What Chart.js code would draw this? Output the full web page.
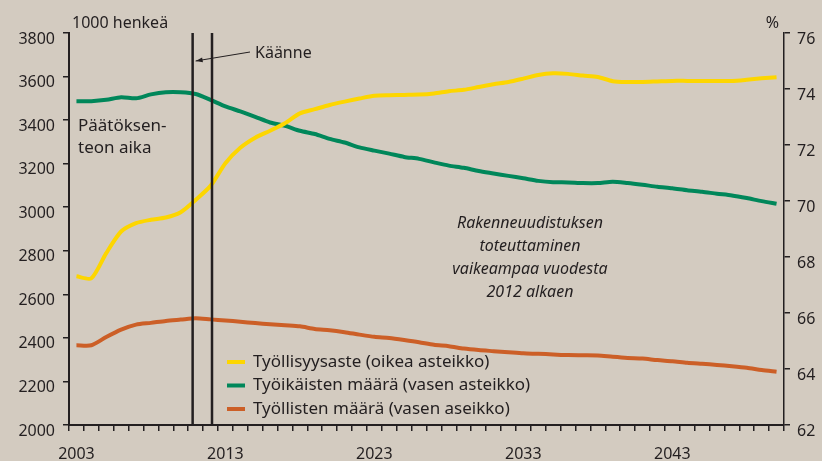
<!DOCTYPE html>
<html>
<head>
<meta charset="utf-8">
<script src="https://cdn.jsdelivr.net/npm/chart.js@4"></script>
<style>
  html, body { margin: 0; padding: 0; background: #d3cbc0; }
  #wrap { width: 822px; height: 461px; position: relative; }
</style>
</head>
<body>
<div id="wrap"><canvas id="chart"></canvas></div>
<script>
// years on the x axis (one band per year)
const years = [
  2003, 2004, 2005, 2006, 2007, 2008, 2009, 2010, 2011, 2012,
  2013, 2014, 2015, 2016, 2017, 2018, 2019, 2020, 2021, 2022,
  2023, 2024, 2025, 2026, 2027, 2028, 2029, 2030, 2031, 2032,
  2033, 2034, 2035, 2036, 2037, 2038, 2039, 2040, 2041, 2042,
  2043, 2044, 2045, 2046, 2047, 2048, 2049, 2050
];
const labelYears = [2003, 2013, 2023, 2033, 2043];

// Työllisyysaste, % (right axis)
const employmentRate = [
  67.31, 67.24, 68.14, 68.91, 69.21, 69.33, 69.41, 69.60, 70.04, 70.54,
  71.35, 71.90, 72.26, 72.51, 72.78, 73.13, 73.28, 73.43, 73.55, 73.66,
  73.76, 73.78, 73.79, 73.80, 73.84, 73.92, 73.97, 74.07, 74.17, 74.25,
  74.37, 74.50, 74.56, 74.54, 74.48, 74.43, 74.28, 74.25, 74.25, 74.27,
  74.29, 74.29, 74.29, 74.29, 74.29, 74.33, 74.38, 74.42
];
// Työikäisten määrä, 1000 henkeä (left axis)
const workingAge = [
  3487, 3487, 3493, 3505, 3500, 3518, 3528, 3528, 3520, 3493,
  3463, 3440, 3415, 3389, 3374, 3351, 3336, 3314, 3297, 3275,
  3260, 3246, 3231, 3222, 3206, 3191, 3181, 3166, 3155, 3144,
  3133, 3121, 3115, 3114, 3111, 3111, 3117, 3111, 3103, 3094,
  3087, 3078, 3071, 3062, 3054, 3042, 3028, 3016
];
// Työllisten määrä, 1000 henkeä (left axis)
const employed = [
  2366, 2366, 2404, 2438, 2461, 2469, 2478, 2484, 2490, 2485,
  2480, 2474, 2468, 2463, 2458, 2453, 2441, 2435, 2426, 2415,
  2405, 2399, 2390, 2380, 2368, 2362, 2351, 2344, 2339, 2334,
  2329, 2327, 2324, 2321, 2320, 2319, 2313, 2308, 2305, 2298,
  2293, 2286, 2281, 2276, 2270, 2263, 2253, 2245
];

const seriesNames = [
  "Työllisyysaste (oikea asteikko)",
  "Työikäisten määrä (vasen asteikko)",
  "Työllisten määrä (vasen aseikko)"
];
const seriesColors = ["#fdd600", "#00875a", "#cc5f27"];

// turning point markers (in years)
const turningPoints = [2010.8, 2012.1];

const ink = "#231f20";
const font = "Noto Sans";

// text, markers and legend drawn on top of the plot
const overlay = {
  id: "overlay",
  afterDatasetsDraw(chart) {
    const { ctx, chartArea, scales } = chart;
    ctx.save();

    // vertical marker lines
    ctx.strokeStyle = ink;
    ctx.lineWidth = 2.5;
    turningPoints.forEach((yr) => {
      const px = scales.x.getPixelForValue(yr - years[0]);
      ctx.beginPath();
      ctx.moveTo(px, chartArea.top);
      ctx.lineTo(px, chartArea.bottom);
      ctx.stroke();
    });

    // arrow from "Käänne" to the first marker
    const ax = scales.x.getPixelForValue(turningPoints[0] - years[0]) + 3;
    const ay = 61;
    ctx.lineWidth = 1;
    ctx.beginPath();
    ctx.moveTo(250, 52);
    ctx.lineTo(ax, ay);
    ctx.stroke();
    const ang = Math.atan2(ay - 52, ax - 250);
    ctx.fillStyle = ink;
    ctx.beginPath();
    ctx.moveTo(ax, ay);
    ctx.lineTo(ax - 7 * Math.cos(ang) + 2.5 * Math.sin(ang), ay - 7 * Math.sin(ang) - 2.5 * Math.cos(ang));
    ctx.lineTo(ax - 7 * Math.cos(ang) - 2.5 * Math.sin(ang), ay - 7 * Math.sin(ang) + 2.5 * Math.cos(ang));
    ctx.closePath();
    ctx.fill();

    // texts
    ctx.fillStyle = ink;
    ctx.textBaseline = "alphabetic";
    ctx.font = `16px "${font}"`;
    ctx.textAlign = "left";
    ctx.fillText("1000 henkeä", 72, 28);
    ctx.fillText("Käänne", 255, 58);
    ctx.textAlign = "right";
    ctx.fillText("%", 779, 28);

    ctx.textAlign = "left";
    ctx.font = `17px "${font}"`;
    ctx.fillText("Päätöksen-", 78, 131);
    ctx.fillText("teon aika", 78, 153);

    ctx.textAlign = "center";
    ctx.font = `italic 16px "${font}"`;
    ["Rakenneuudistuksen", "toteuttaminen", "vaikeampaa vuodesta", "2012 alkaen"]
      .forEach((t, i) => ctx.fillText(t, 530, 228 + i * 23));

    // legend
    ctx.textAlign = "left";
    ctx.textBaseline = "middle";
    ctx.font = `17px "${font}"`;
    seriesNames.forEach((name, i) => {
      const y = 362 + i * 23.5;
      ctx.strokeStyle = seriesColors[i];
      ctx.lineWidth = 4;
      ctx.beginPath();
      ctx.moveTo(227, y);
      ctx.lineTo(245, y);
      ctx.stroke();
      ctx.fillStyle = ink;
      ctx.fillText(name, 253, y);
    });

    ctx.restore();
  }
};

const ctx = document.getElementById("chart").getContext("2d");

new Chart(ctx, {
  type: "line",
  data: {
    labels: years,
    datasets: [
      { label: seriesNames[0], data: employmentRate, yAxisID: "yRight", borderColor: seriesColors[0] },
      { label: seriesNames[1], data: workingAge, yAxisID: "yLeft", borderColor: seriesColors[1] },
      { label: seriesNames[2], data: employed, yAxisID: "yLeft", borderColor: seriesColors[2] },
    ],
  },
  options: {
    responsive: true,
    maintainAspectRatio: false,
    animation: false,
    layout: { padding: { top: 33, left: 0, right: 0, bottom: 0 } },
    elements: {
      point: { radius: 0 },
      line: { borderWidth: 4, tension: 0.25, borderCapStyle: "butt" },
    },
    plugins: {
      legend: { display: false },
      tooltip: { enabled: false },
    },
    scales: {
      x: {
        type: "category",
        offset: true,
        grid: { offset: true, drawOnChartArea: false, drawTicks: true, tickLength: 6, color: ink, lineWidth: 1.5 },
        border: { color: ink, width: 2 },
        ticks: {
          autoSkip: false,
          maxRotation: 0,
          padding: 14,
          color: ink,
          font: { family: font, size: 16 },
          callback: (v, i) => (labelYears.includes(years[i]) ? String(years[i]) : ""),
        },
        afterFit: (s) => { s.height = 36; },
      },
      yLeft: {
        position: "left",
        min: 2000,
        max: 3800,
        grid: { drawOnChartArea: false, tickLength: 6, color: ink, lineWidth: 1.5 },
        border: { color: ink, width: 2 },
        ticks: {
          stepSize: 200, padding: 8, labelOffset: 6, color: ink,
          font: { family: font, size: 16 },
          callback: (v) => String(v),
        },
        afterFit: (s) => { s.width = 69; },
      },
      yRight: {
        position: "right",
        min: 62,
        max: 76,
        grid: { drawOnChartArea: false, tickLength: 6, color: ink, lineWidth: 1.5 },
        border: { color: ink, width: 1.5 },
        ticks: {
          stepSize: 2, padding: 7, labelOffset: 6, color: ink,
          font: { family: font, size: 16 },
          callback: (v) => String(v),
        },
        afterFit: (s) => { s.width = 38; },
      },
    },
  },
  plugins: [overlay],
});
</script>
</body>
</html>
